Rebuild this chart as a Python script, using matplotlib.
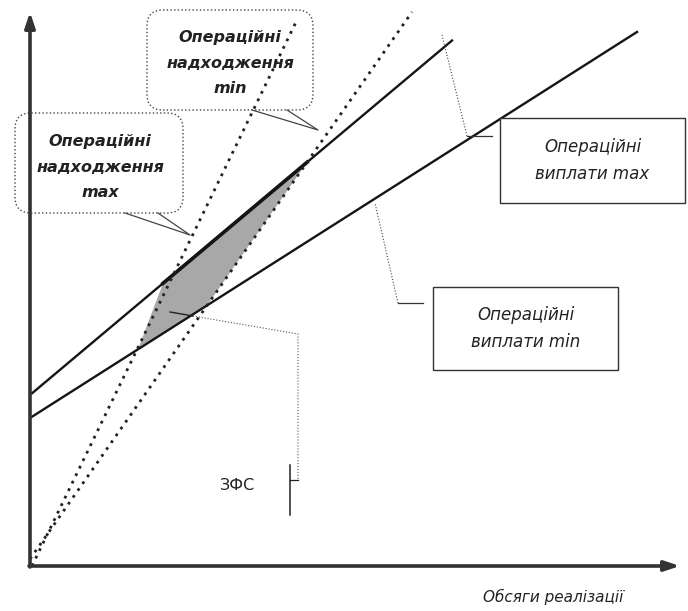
import numpy as np
import matplotlib.pyplot as plt
from matplotlib.patches import FancyBboxPatch, Polygon

# Lines of the chart: v = intercept + slope * u  (u - sales volume, v - money flow)
line_names = ['Операційні виплати max', 'Операційні виплати min',
              'Операційні надходження max', 'Операційні надходження min']
intercepts = [171.0, 148.0, -4.0, 7.0]
slopes = [0.840, 0.636, 2.06, 1.432]
u_start = [2.0, 2.0, 2.0, 0.0]
u_end = [422.0, 607.0, 267.0, 382.0]
line_styles = ['solid', 'solid', 'dotted', 'dotted']

# Left edge of the shaded zone (u on payments max / payments min line)
zone_left_u = [133.0, 108.0]

X0, Y0 = 30, 566  # axis origin in figure pixels


def px(x, y):
    # figure pixel -> data coords
    return x - X0, Y0 - y


def line_v(i, u):
    return intercepts[i] + slopes[i] * np.asarray(u)


fig = plt.figure(figsize=(6.88, 6.11), dpi=100)
ax = fig.add_axes([0, 0, 1, 1])
ax.set_xlim(-X0, 688 - X0)
ax.set_ylim(Y0 - 611, Y0)
ax.axis('off')

# Shaded zone (ЗФС)
u_top_right = (intercepts[3] - intercepts[0]) / (slopes[0] - slopes[3])
u_bot_right = (intercepts[3] - intercepts[1]) / (slopes[1] - slopes[3])
zone = [(zone_left_u[0], line_v(0, zone_left_u[0])),
        (u_top_right, line_v(0, u_top_right)),
        (u_bot_right, line_v(1, u_bot_right)),
        (zone_left_u[1], line_v(1, zone_left_u[1]))]
ax.add_patch(Polygon(zone, closed=True, fc='#a8a8a8', ec='none', zorder=1))
ax.plot([zone_left_u[0], u_top_right], line_v(0, [zone_left_u[0], u_top_right]),
        color='#111', lw=2.6, zorder=3)

# Lines
for i in range(len(line_names)):
    u = np.array([u_start[i], u_end[i]])
    if line_styles[i] == 'solid':
        ax.plot(u, line_v(i, u), color='#151515', lw=1.7, zorder=3)
    else:
        ax.plot(u, line_v(i, u), color='#222', lw=2.0,
                linestyle=(0, (1, 2.0)), zorder=3)

# Axes with arrows
ax.annotate('', xy=(0, Y0 - 12), xytext=(0, -1),
            arrowprops=dict(arrowstyle='-|>,head_length=0.9,head_width=0.3',
                            lw=2.6, color='#333', shrinkA=0, shrinkB=0))
ax.annotate('', xy=(680 - X0, 0), xytext=(-1, 0),
            arrowprops=dict(arrowstyle='-|>,head_length=0.9,head_width=0.3',
                            lw=2.6, color='#333', shrinkA=0, shrinkB=0))

callout_font = dict(fontsize=11.5, fontstyle='italic', fontweight='bold',
                    color='#222', ha='center', va='center', linespacing=1.85)
box_font = dict(fontsize=12, fontstyle='italic', color='#222',
                ha='center', va='center', linespacing=1.7)


def callout(x0, y0, x1, y1, base, tip, text, tx, ty):
    bl = px(x0, y1)
    ax.add_patch(FancyBboxPatch(bl, x1 - x0, y1 - y0,
                                boxstyle='round,pad=0,rounding_size=16',
                                fc='none', ec='#444', lw=1.0, ls=':', zorder=4))
    bx = [px(*base[0]), px(*tip), px(*base[1])]
    ax.plot([p[0] for p in bx], [p[1] for p in bx], color='#444', lw=0.9, zorder=4)
    ax.text(*px(tx, ty), text, zorder=5, **callout_font)


callout(147, 10, 313, 110, [(252, 110), (287, 110)], (318, 130),
        'Операційні\nнадходження\nmin', 230, 63)
callout(15, 113, 183, 213, [(125, 213), (158, 213)], (190, 235),
        'Операційні\nнадходження\nmax', 100, 167)

# Rectangular boxes for payments
for (x0, y0, x1, y1), txt in [((500, 118, 685, 203), 'Операційні\nвиплати max'),
                              ((433, 287, 618, 370), 'Операційні\nвиплати min')]:
    ax.add_patch(plt.Rectangle(px(x0, y1), x1 - x0, y1 - y0, fc='white',
                               ec='#333', lw=1.0, zorder=4))
    ax.text(*px((x0 + x1) / 2, (y0 + y1) / 2), txt, zorder=5, **box_font)

# Leaders to payment lines
lead = [px(492, 136), px(467, 136)]
ax.plot(*zip(*lead), color='#333', lw=0.9, zorder=4)
lead = [px(467, 136), px(442, 35)]
ax.plot(*zip(*lead), color='#444', lw=0.8, ls=':', zorder=4)
lead = [px(423, 303), px(398, 303)]
ax.plot(*zip(*lead), color='#333', lw=0.9, zorder=4)
lead = [px(398, 303), px(375, 203)]
ax.plot(*zip(*lead), color='#444', lw=0.8, ls=':', zorder=4)

# ЗФС leader and bracket
lead = [px(170, 312), px(193, 316)]
ax.plot(*zip(*lead), color='#222', lw=1.0, zorder=4)
lead = [px(193, 316), px(298, 334), px(298, 480)]
ax.plot(*zip(*lead), color='#555', lw=0.8, ls=':', zorder=4)
lead = [px(298, 480), px(290, 480)]
ax.plot(*zip(*lead), color='#222', lw=0.9, zorder=4)
lead = [px(290, 465), px(290, 515)]
ax.plot(*zip(*lead), color='#222', lw=1.1, zorder=4)
ax.text(*px(238, 486), 'ЗФС', fontsize=11.5, color='#222', ha='center', va='center')

# Axis label
ax.text(*px(553, 597), 'Обсяги реалізації', fontsize=11, fontstyle='italic',
        color='#222', ha='center', va='center')

plt.savefig('out.png', dpi=100)
